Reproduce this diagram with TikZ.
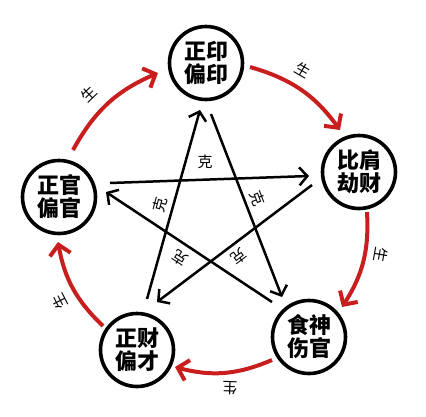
\documentclass[tikz,border=0pt]{standalone}
\usepackage{fontspec}
\newfontfamily\cjk{Noto Sans CJK SC}
\usetikzlibrary{arrows.meta}
\definecolor{shred}{RGB}{200,30,30}
\tikzset{
  gz/.style={circle, draw, line width=3.6pt, minimum size=73pt, inner sep=0pt, align=center,
    font=\cjk\bfseries\fontsize{22}{23}\selectfont},
  sheng/.style={draw=shred, line width=4pt, -{Straight Barb[length=10pt,width=21pt]}},
  ke/.style={draw, line width=2.5pt, -{Straight Barb[length=8pt,width=18pt]}},
  lbl/.style={font=\cjk\fontsize{15}{15}\selectfont, inner sep=0pt},
}
\begin{document}
\begin{tikzpicture}[x=1pt,y=-1pt]
\useasboundingbox (0,0) rectangle (426,416);
% circles
\node[gz] (T)  at (206,63)  {正印\\偏印};
\node[gz] (R)  at (359,172) {比肩\\劫财};
\node[gz] (BR) at (309,337) {食神\\伤官};
\node[gz] (BL) at (137,350) {正财\\偏才};
\node[gz] (L)  at (59,197)  {正官\\偏官};
% red arrow ends
\coordinate (s1) at (73,150);  \coordinate (e1) at (158,73);
\coordinate (s2) at (250,67);  \coordinate (e2) at (340,130);
\coordinate (s3) at (367,212); \coordinate (e3) at (342,307);
\coordinate (s4) at (272,360); \coordinate (e4) at (175,367);
\coordinate (s5) at (103,326); \coordinate (e5) at (58,242);
\draw[sheng] (s1) to[bend left=19] (e1);
\draw[sheng] (s2) to[bend left=19] (e2);
\draw[sheng] (s3) to[bend left=18] (e3);
\draw[sheng] (s4) to[bend left=19] (e4);
\draw[sheng] (s5) to[bend left=18] (e5);
% sheng labels
\node[lbl, rotate=44]  (g1) at (89,94)   {生};
\node[lbl, rotate=-30] (g2) at (303,70)  {生};
\node[lbl, rotate=-100](g3) at (381,255) {生};
\node[lbl, rotate=178] (g4) at (230,388) {生};
\node[lbl, rotate=117] (g5) at (60,302)  {生};
% black star lines
\coordinate (k1s) at (147,299); \coordinate (k1e) at (200,110);
\coordinate (k2s) at (211,114); \coordinate (k2e) at (282,297);
\coordinate (k3s) at (110,183); \coordinate (k3e) at (309,176);
\coordinate (k4s) at (272,302); \coordinate (k4e) at (106,192);
\coordinate (k5s) at (312,185); \coordinate (k5e) at (157,302);
\draw[ke] (k1s) -- (k1e);
\draw[ke] (k2s) -- (k2e);
\draw[ke] (k3s) -- (k3e);
\draw[ke] (k4s) -- (k4e);
\draw[ke] (k5s) -- (k5e);
% ke labels
\node[lbl] (c1) at (205,162) {克};
\node[lbl, rotate=75]   (c2) at (160,205) {克};
\node[lbl, rotate=-69]  (c3) at (257,198) {克};
\node[lbl, rotate=147]  (c4) at (180,258) {克};
\node[lbl, rotate=-143] (c5) at (239,257) {克};
\end{tikzpicture}
\end{document}
